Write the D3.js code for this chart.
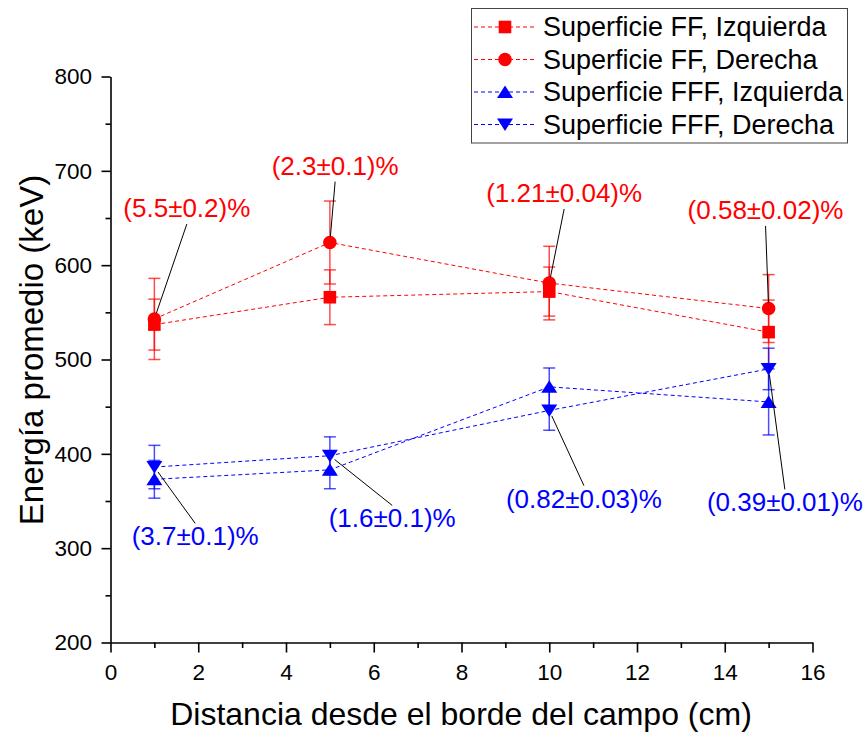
<!DOCTYPE html>
<html>
<head>
<meta charset="utf-8">
<script src="https://cdn.jsdelivr.net/npm/d3@7"></script>
<style>
  body { margin: 0; background: #fff; }
  svg { display: block; }
  text { font-family: "Liberation Sans", Arial, sans-serif; }
</style>
</head>
<body>
<svg id="chart" width="867" height="734"></svg>
<script>
// Mean energy vs distance from the field edge (keV)
const distances = [1, 5, 10, 15];

const ffIzquierda      = [537, 566, 572, 529];
const ffIzquierdaErr   = [27, 29, 26, 34];
const ffDerecha        = [543, 624, 581, 554];
const ffDerechaErr     = [43, 44, 39, 36];
const fffIzquierda     = [373, 383, 471, 455];
const fffIzquierdaErr  = [20, 20, 20, 35];
const fffDerecha       = [386, 398, 446, 490];
const fffDerechaErr    = [23, 20, 21, 22];

const seriesNames = [
  "Superficie FF, Izquierda",
  "Superficie FF, Derecha",
  "Superficie FFF, Izquierda",
  "Superficie FFF, Derecha"
];

const xTickValues = [0, 2, 4, 6, 8, 10, 12, 14, 16];
const yTickValues = [200, 300, 400, 500, 600, 700, 800];

// Percentage annotations for the "Derecha" series
const ffLabels  = ["(5.5±0.2)%", "(2.3±0.1)%", "(1.21±0.04)%", "(0.58±0.02)%"];
const fffLabels = ["(3.7±0.1)%", "(1.6±0.1)%", "(0.82±0.03)%", "(0.39±0.01)%"];

// Where each annotation text sits (data units: x, y of the text baseline centre)
const ffLabelAt  = [[1.74, 651], [5.12, 696], [10.34, 667], [14.93, 649]];
const fffLabelAt = [[1.93, 303], [6.42, 322], [10.79, 343], [15.37, 339]];

const RED = "#ff0000", BLUE = "#0000ff";
const FONT = "Liberation Sans, Arial, sans-serif";

const series = [
  { name: seriesNames[0], values: ffIzquierda,  err: ffIzquierdaErr,  color: RED,  shape: "square" },
  { name: seriesNames[1], values: ffDerecha,    err: ffDerechaErr,    color: RED,  shape: "circle" },
  { name: seriesNames[2], values: fffIzquierda, err: fffIzquierdaErr, color: BLUE, shape: "up" },
  { name: seriesNames[3], values: fffDerecha,   err: fffDerechaErr,   color: BLUE, shape: "down" }
];

const svg = d3.select("#chart");
const x = d3.scaleLinear().domain([0, 16]).range([110.5, 812.5]);
const y = d3.scaleLinear().domain([200, 800]).range([642.5, 76.5]);

function markerPath(shape) {
  switch (shape) {
    case "square": return "M-6.3,-6.3H6.3V6.3H-6.3Z";
    case "circle": return d3.symbol(d3.symbolCircle, Math.PI * 6.8 * 6.8)();
    case "up":     return "M0,-6.5L8,6L-8,6Z";
    case "down":   return "M0,6.5L8,-6L-8,-6Z";
  }
}

// ---- axes ----
const axisG = svg.append("g");

const xAxis = d3.axisBottom(x).tickValues(xTickValues).tickSize(10).tickSizeOuter(0).tickPadding(12);
const gx = axisG.append("g").attr("transform", `translate(0,${y(200)})`).call(xAxis);
gx.attr("font-family", FONT);
gx.selectAll(".tick text").attr("font-size", 22.5).attr("fill", "#000");

const xMinor = d3.axisBottom(x).tickValues(d3.range(1, 16, 2)).tickSize(5.5).tickFormat("");
const gxm = axisG.append("g").attr("transform", `translate(0,${y(200)})`).call(xMinor);
gxm.select(".domain").remove();

const yAxis = d3.axisLeft(y).tickValues(yTickValues).tickSize(9).tickSizeOuter(0).tickPadding(9.5);
const gy = axisG.append("g").attr("transform", `translate(${x(0)},0)`).call(yAxis);
gy.attr("font-family", FONT);
gy.selectAll(".tick text").attr("font-size", 22.5).attr("fill", "#000");

const yMinor = d3.axisLeft(y).tickValues(d3.range(250, 800, 100)).tickSize(5).tickFormat("");
const gym = axisG.append("g").attr("transform", `translate(${x(0)},0)`).call(yMinor);
gym.select(".domain").remove();

axisG.selectAll(".domain, .tick line").attr("stroke", "#000").attr("stroke-width", 1.6);

// axis titles
svg.append("text")
  .attr("x", 461).attr("y", 725)
  .attr("text-anchor", "middle").attr("font-size", 32)
  .text("Distancia desde el borde del campo (cm)");

svg.append("text")
  .attr("transform", "translate(43,350) rotate(-90)")
  .attr("text-anchor", "middle").attr("font-size", 33)
  .text("Energía promedio (keV)");

// ---- dashed connecting lines ----
const line = d3.line().x(d => x(d[0])).y(d => y(d[1]));
series.forEach(s => {
  svg.append("path")
    .datum(distances.map((d, i) => [d, s.values[i]]))
    .attr("d", line)
    .attr("fill", "none")
    .attr("stroke", s.color)
    .attr("stroke-width", 1)
    .attr("stroke-dasharray", "4,3");
});

// ---- error bars ----
series.forEach(s => {
  const g = svg.append("g").attr("stroke", s.color).attr("stroke-width", 1.5).attr("stroke-opacity", 0.7);
  distances.forEach((d, i) => {
    const cx = x(d), lo = y(s.values[i] - s.err[i]), hi = y(s.values[i] + s.err[i]);
    g.append("line").attr("x1", cx).attr("x2", cx).attr("y1", lo).attr("y2", hi);
    g.append("line").attr("x1", cx - 6).attr("x2", cx + 6).attr("y1", lo).attr("y2", lo);
    g.append("line").attr("x1", cx - 6).attr("x2", cx + 6).attr("y1", hi).attr("y2", hi);
  });
});

// ---- markers ----
series.forEach(s => {
  svg.append("g").selectAll("path")
    .data(distances.map((d, i) => [d, s.values[i]]))
    .join("path")
    .attr("d", markerPath(s.shape))
    .attr("transform", d => `translate(${x(d[0])},${y(d[1])})`)
    .attr("fill", s.color);
});

// ---- annotations (leader lines + labels) ----
function annotate(labels, positions, target, color, below) {
  labels.forEach((txt, i) => {
    const lx = x(positions[i][0]), ly = y(positions[i][1]);
    const sx = lx, sy = below ? ly + 7 : ly - 22;
    const tx = x(distances[i]), ty = y(target.values[i]);
    const len = Math.hypot(tx - sx, ty - sy);
    const k = (len - 6) / len;
    svg.append("line")
      .attr("x1", sx).attr("y1", sy)
      .attr("x2", sx + (tx - sx) * k).attr("y2", sy + (ty - sy) * k)
      .attr("stroke", "#000").attr("stroke-width", 1);
    svg.append("text")
      .attr("x", lx).attr("y", ly)
      .attr("text-anchor", "middle").attr("font-size", 26)
      .attr("fill", color)
      .text(txt);
  });
}
annotate(ffLabels, ffLabelAt, series[1], RED, true);
annotate(fffLabels, fffLabelAt, series[3], BLUE, false);

// ---- legend ----
const lg = svg.append("g");
lg.append("rect")
  .attr("x", 471.5).attr("y", 8.5).attr("width", 376).attr("height", 134.5)
  .attr("fill", "#fff").attr("stroke", "#444").attr("stroke-width", 1);
const rowY = [27, 59.5, 92, 124.5];
series.forEach((s, i) => {
  const ry = rowY[i];
  lg.append("line").attr("x1", 474).attr("x2", 536).attr("y1", ry).attr("y2", ry)
    .attr("stroke", s.color).attr("stroke-width", 1).attr("stroke-dasharray", "4,3");
  lg.append("path").attr("d", markerPath(s.shape)).attr("transform", `translate(505,${ry})`).attr("fill", s.color);
  lg.append("text").attr("x", 543).attr("y", ry + 9).attr("font-size", 27).text(s.name);
});
</script>
</body>
</html>
